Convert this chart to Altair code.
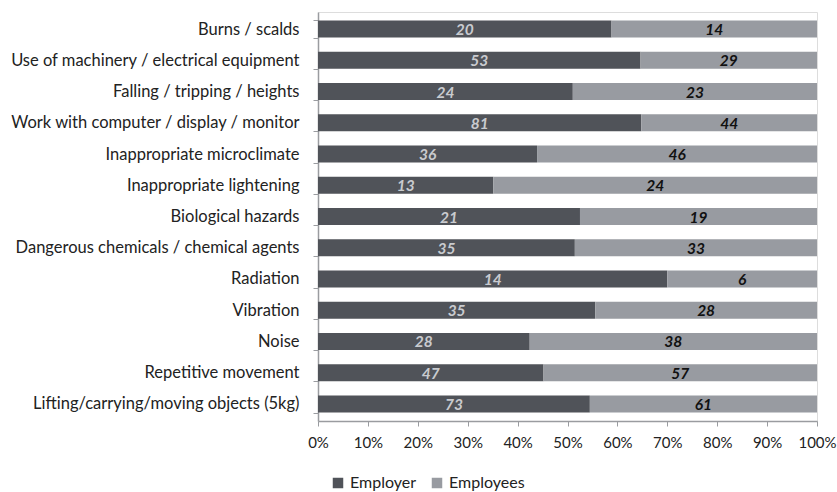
import altair as alt
import pandas as pd

categories = [
    "Burns / scalds",
    "Use of machinery / electrical equipment",
    "Falling / tripping / heights",
    "Work with computer / display / monitor",
    "Inappropriate microclimate",
    "Inappropriate lightening",
    "Biological hazards",
    "Dangerous chemicals / chemical agents",
    "Radiation",
    "Vibration",
    "Noise",
    "Repetitive movement",
    "Lifting/carrying/moving objects (5kg)",
]
employer = [20, 53, 24, 81, 36, 13, 21, 35, 14, 35, 28, 47, 73]
employees = [14, 29, 23, 44, 46, 24, 19, 33, 6, 28, 38, 57, 61]
series = ["Employer", "Employees"]
colors = ["#505359", "#989ba1"]
tick_values = [i / 10 for i in range(11)]

rows = []
for c, a, b in zip(categories, employer, employees):
    rows.append({"category": c, "series": "Employer", "value": a, "order": 0})
    rows.append({"category": c, "series": "Employees", "value": b, "order": 1})
df = pd.DataFrame(rows)

FONT = "Lato"

base = alt.Chart(df).encode(
    y=alt.Y("category:N", sort=categories, title=None,
            scale=alt.Scale(paddingInner=0.45, paddingOuter=0.27),
            axis=alt.Axis(labelFont=FONT, labelFontSize=16.5, labelColor="#222222",
                          domainColor="#9a9ca0", tickColor="#9a9ca0", tickBand="extent",
                          tickSize=5, labelPadding=14, domainWidth=1.5, labelLimit=0)),
)

bars = base.mark_bar(size=17).encode(
    x=alt.X("value:Q", stack="normalize", title=None,
            scale=alt.Scale(domain=[0, 1], nice=False),
            axis=alt.Axis(format="%", values=tick_values, labelFont=FONT, labelFontSize=15,
                          labelColor="#222222", domainColor="#9a9ca0", tickColor="#9a9ca0",
                          tickSize=5, grid=False, labelPadding=9, domainWidth=1.5,
                          labelOverlap=False, labelFlush=False)),
    color=alt.Color("series:N", sort=series,
                    scale=alt.Scale(domain=series, range=colors),
                    legend=alt.Legend(title=None, orient="none", legendX=12, legendY=463,
                                      direction="horizontal", symbolType="square",
                                      symbolSize=110, symbolStrokeWidth=0,
                                      labelFont=FONT, labelFontSize=16, labelColor="#222222",
                                      columnPadding=12, symbolOpacity=1)),
    order=alt.Order("order:Q"),
)

labels_src = base.transform_joinaggregate(
    total="sum(value)", groupby=["category"]
).transform_window(
    cum="sum(value)", groupby=["category"], sort=[alt.SortField("order")]
).transform_calculate(
    mid="(datum.cum - datum.value / 2) / datum.total"
)

lab_emp = labels_src.transform_filter(alt.datum.series == "Employer").mark_text(
    font=FONT, fontSize=15.5, fontStyle="italic", fontWeight="bold", color="#c9cbcf", dy=1
).encode(x=alt.X("mid:Q"), text="value:Q")

lab_ees = labels_src.transform_filter(alt.datum.series == "Employees").mark_text(
    font=FONT, fontSize=15.5, fontStyle="italic", fontWeight="bold", color="#111111", dy=1
).encode(x=alt.X("mid:Q"), text="value:Q")

chart = alt.layer(bars, lab_emp, lab_ees).properties(
    width=499, height=409,
    autosize=alt.AutoSizeParams(type="none"),
    padding={"left": 318, "top": 12, "right": 20, "bottom": 71},
).configure_view(stroke=None).configure(background="white")

chart.save("out.html", embed_options={"renderer": "svg", "actions": False})
